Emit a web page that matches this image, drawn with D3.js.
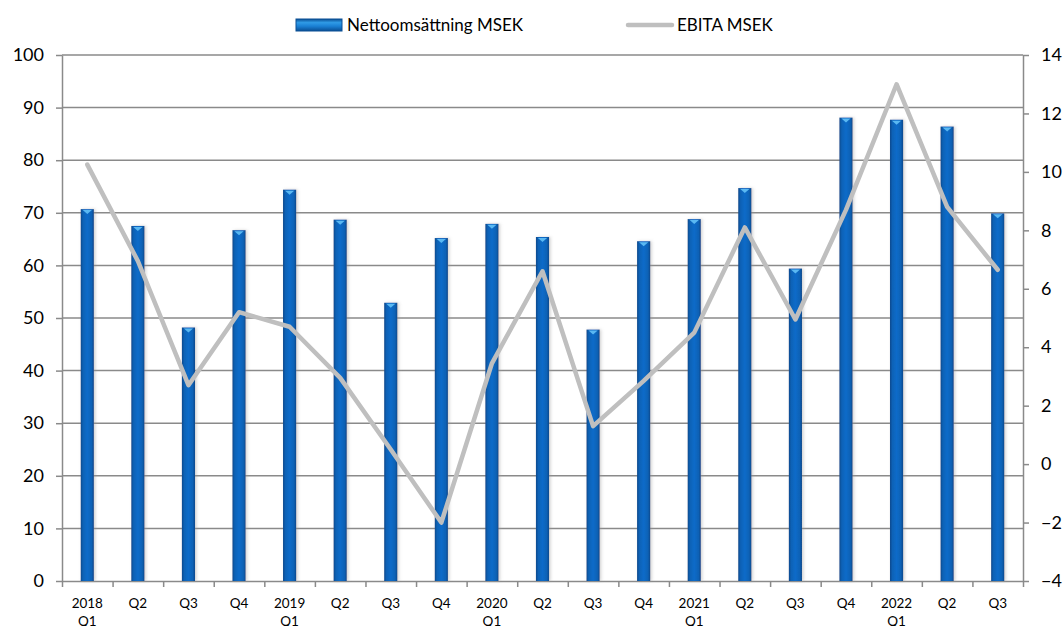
<!DOCTYPE html>
<html>
<head>
<meta charset="utf-8">
<script src="https://cdn.jsdelivr.net/npm/d3@7"></script>
<style>
  body { margin: 0; background: #fff; }
  text { font-family: Lato, "Open Sans", sans-serif; fill: #000; }
</style>
</head>
<body>
<div class="chart"></div>
<script>
// Nettoomsättning (bars, left axis) and EBITA (line, right axis) per quarter
var quarters = ["2018|Q1", "Q2", "Q3", "Q4", "2019|Q1", "Q2", "Q3", "Q4", "2020|Q1", "Q2",
    "Q3", "Q4", "2021|Q1", "Q2", "Q3", "Q4", "2022|Q1", "Q2", "Q3"];
var netSales = [70.7, 67.5, 48.2, 66.7, 74.4, 68.7, 52.9, 65.2, 67.9, 65.4,
    47.8, 64.6, 68.8, 74.7, 59.4, 88.1, 87.7, 86.4, 69.9];
var ebita = [10.25, 6.95, 2.7, 5.2, 4.7, 2.95, 0.5, -2.0, 3.45, 6.6,
    1.3, 2.85, 4.5, 8.1, 4.95, 8.7, 13.0, 8.8, 6.65];
var leftTicks = [0, 10, 20, 30, 40, 50, 60, 70, 80, 90, 100];
var rightTicks = [-4, -2, 0, 2, 4, 6, 8, 10, 12, 14];

var svgWidth = 1064;
var svgHeight = 626;
var margin = { top: 55, right: 41, bottom: 45, left: 62 };
var width = svgWidth - margin.left - margin.right;
var height = svgHeight - margin.top - margin.bottom;

var svg = d3.select(".chart")
    .append("svg")
    .attr("width", svgWidth)
    .attr("height", svgHeight);

var defs = svg.append("defs");

var barGrad = defs.append("linearGradient")
    .attr("id", "barGrad")
    .attr("x1", "0").attr("x2", "1").attr("y1", "0").attr("y2", "0");
barGrad.append("stop").attr("offset", "0%").attr("stop-color", "#07498c");
barGrad.append("stop").attr("offset", "18%").attr("stop-color", "#0a62b6");
barGrad.append("stop").attr("offset", "50%").attr("stop-color", "#0d6bc9");
barGrad.append("stop").attr("offset", "82%").attr("stop-color", "#0a62b6");
barGrad.append("stop").attr("offset", "100%").attr("stop-color", "#07498c");

var legGrad = defs.append("linearGradient")
    .attr("id", "legGrad")
    .attr("x1", "0").attr("x2", "0").attr("y1", "0").attr("y2", "1");
legGrad.append("stop").attr("offset", "0%").attr("stop-color", "#0a4f94");
legGrad.append("stop").attr("offset", "30%").attr("stop-color", "#2f9be6");
legGrad.append("stop").attr("offset", "60%").attr("stop-color", "#1a80d4");
legGrad.append("stop").attr("offset", "100%").attr("stop-color", "#0a4f94");

var shadow = defs.append("filter").attr("id", "shadow")
    .attr("x", "-50%").attr("y", "-5%").attr("width", "200%").attr("height", "110%");
shadow.append("feDropShadow")
    .attr("dx", 1.5).attr("dy", 0).attr("stdDeviation", 1.5)
    .attr("flood-color", "#999").attr("flood-opacity", 0.45);

var chart = svg.append("g")
    .attr("transform", "translate(" + margin.left + "," + margin.top + ")");

// scales
var xBand = d3.scaleBand()
    .domain(d3.range(quarters.length))
    .range([0, width])
    .paddingInner(0.74)
    .paddingOuter(0.37);

var xEdge = d3.scaleLinear()
    .domain([0, quarters.length])
    .range([0, width]);

var yLeft = d3.scaleLinear().domain([0, 100]).range([height, 0]);
var yRight = d3.scaleLinear().domain([-4, 14]).range([height, 0]);

// gridlines
chart.append("g")
    .selectAll("line")
    .data(leftTicks.slice(1))
    .enter()
    .append("line")
    .attr("x1", 0)
    .attr("x2", width)
    .attr("y1", function(d) { return yLeft(d); })
    .attr("y2", function(d) { return yLeft(d); })
    .attr("stroke", "#8a8a8a")
    .attr("stroke-width", 1.5);

// left axis
var leftAxis = chart.append("g")
    .call(d3.axisLeft(yLeft).tickValues(leftTicks).tickSize(6).tickSizeOuter(0).tickPadding(12));
leftAxis.selectAll("text").style("font-size", "18px");

// right axis
var rightAxis = chart.append("g")
    .attr("transform", "translate(" + width + ",0)")
    .call(d3.axisRight(yRight).tickValues(rightTicks).tickSize(6).tickSizeOuter(0).tickPadding(12));
rightAxis.selectAll("text").style("font-size", "18px");

// bottom tick marks at category edges
chart.append("g")
    .attr("transform", "translate(0," + height + ")")
    .call(d3.axisBottom(xEdge).tickValues(d3.range(quarters.length + 1)).tickFormat("").tickSize(6).tickSizeOuter(0));

[leftAxis, rightAxis].forEach(function(a) {
    a.select(".domain").attr("stroke", "#8a8a8a").attr("stroke-width", 1.5);
    a.selectAll(".tick line").attr("stroke", "#8a8a8a").attr("stroke-width", 1.5);
});
chart.selectAll(".domain, .tick line").attr("stroke", "#8a8a8a").attr("stroke-width", 1.5);

// bars
var bars = chart.append("g");
bars.selectAll("rect")
    .data(netSales)
    .enter()
    .append("rect")
    .attr("x", function(d, i) { return xBand(i); })
    .attr("y", function(d) { return yLeft(d); })
    .attr("width", xBand.bandwidth())
    .attr("height", function(d) { return height - yLeft(d); })
    .attr("fill", "url(#barGrad)")
    .attr("filter", "url(#shadow)");

// bevel highlight on top of each bar
bars.selectAll("path")
    .data(netSales)
    .enter()
    .append("path")
    .attr("d", function(d, i) {
        var x0 = xBand(i) + 2, x1 = xBand(i) + xBand.bandwidth() - 2, y0 = yLeft(d) + 1;
        return "M" + x0 + "," + y0 + "L" + x1 + "," + y0 + "L" + (x0 + x1) / 2 + "," + (y0 + 4) + "Z";
    })
    .attr("fill", "#5ab8f2");

// EBITA line
var line = d3.line()
    .x(function(d, i) { return xBand(i) + xBand.bandwidth() / 2; })
    .y(function(d) { return yRight(d); });

chart.append("path")
    .datum(ebita)
    .attr("d", line)
    .attr("fill", "none")
    .attr("stroke", "#bfbfbf")
    .attr("stroke-width", 4.5)
    .attr("stroke-linejoin", "round")
    .attr("stroke-linecap", "round");

// category labels
var labels = chart.append("g")
    .selectAll("text")
    .data(quarters)
    .enter()
    .append("text")
    .attr("x", function(d, i) { return xBand(i) + xBand.bandwidth() / 2; })
    .attr("y", height + 27)
    .attr("text-anchor", "middle")
    .style("font-size", "13.5px");
labels.each(function(d) {
    var parts = d.split("|");
    var t = d3.select(this);
    parts.forEach(function(p, k) {
        t.append("tspan")
            .attr("x", t.attr("x"))
            .attr("dy", k === 0 ? 0 : 18)
            .text(p);
    });
});

// legend
var legend = svg.append("g");
legend.append("rect")
    .attr("x", 296).attr("y", 19)
    .attr("width", 46).attr("height", 12)
    .attr("fill", "url(#legGrad)")
    .attr("stroke", "#0a4f94").attr("stroke-width", 1);
legend.append("text")
    .attr("x", 347).attr("y", 31)
    .style("font-size", "17px")
    .text("Nettoomsättning MSEK");
legend.append("line")
    .attr("x1", 628).attr("x2", 672)
    .attr("y1", 25).attr("y2", 25)
    .attr("stroke", "#bfbfbf").attr("stroke-width", 4.5)
    .attr("stroke-linecap", "round");
legend.append("text")
    .attr("x", 677).attr("y", 31)
    .style("font-size", "17px")
    .text("EBITA MSEK");
</script>
</body>
</html>
